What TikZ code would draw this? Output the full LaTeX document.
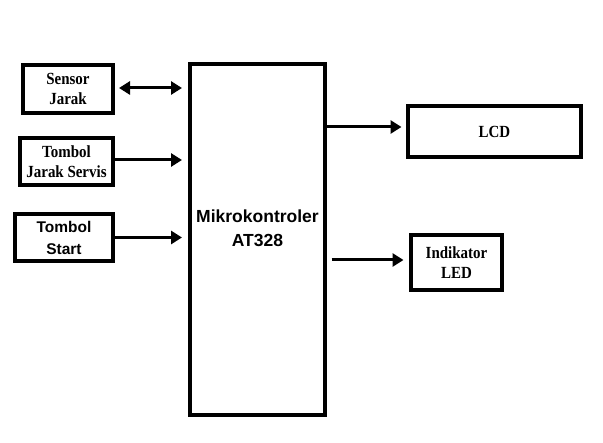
\documentclass[tikz,border=0pt]{standalone}
\usepackage{fontspec}
\setmainfont{Liberation Serif}[FakeStretch=0.88]
\newfontfamily\blocksans{Liberation Sans}
\usetikzlibrary{arrows.meta,positioning}

\begin{document}
\begin{tikzpicture}[x=1pt,y=-1pt,
  blok/.style={draw,line width=4pt,fill=white,align=center,inner sep=0pt,font=\fontsize{17}{20}\selectfont\bfseries},
  bloksans/.style={blok,font=\fontsize{15.5}{22}\selectfont\blocksans\bfseries},
  panah/.style={line width=3pt,-{Triangle[length=11pt,width=13pt]}},
  panahdua/.style={line width=3pt,{Triangle[length=11pt,width=13pt]}-{Triangle[length=11pt,width=13pt]}}]
  \useasboundingbox (0,0) rectangle (603,443);
  \node[blok,minimum width=90pt,minimum height=48pt] (sensor) at (68,89) {Sensor\\Jarak};
  \node[blok,minimum width=93pt,minimum height=47pt] (servis) at (66.5,161.5) {Tombol\\Jarak Servis};
  \node[bloksans,minimum width=98pt,minimum height=47pt] (start) at (64,237.5) {Tombol\\Start};
  \node[blok,minimum width=135pt,minimum height=351pt] (mcu) at (257.5,239.5) {};
  \node[font=\fontsize{17.5}{24}\selectfont\blocksans\bfseries,align=center] (mcutext) at ([yshift=11pt]mcu.center) {Mikrokontroler\\AT328};
  \node[blok,minimum width=173pt,minimum height=51pt] (lcd) at (494.5,131.5) {LCD};
  \node[blok,minimum width=91pt,minimum height=55pt] (led) at (456.5,262.5) {Indikator\\LED};
  \draw[panahdua] ([xshift=4pt,yshift=1pt]sensor.east) -- ([xshift=-6pt,yshift=1pt]mcu.west |- sensor.east);
  \draw[panah] ([yshift=1.5pt]servis.east) -- ([xshift=-6pt,yshift=1.5pt]mcu.west |- servis.east);
  \draw[panah] (start.east) -- ([xshift=-6pt]mcu.west |- start.east);
  \draw[panah] ([yshift=4.5pt]mcu.east |- lcd.west) -- ([xshift=-4.5pt,yshift=4.5pt]lcd.west);
  \draw[panah] ([xshift=4.5pt,yshift=2.5pt]mcu.east |- led.west) -- ([xshift=-5.5pt,yshift=2.5pt]led.west);
\end{tikzpicture}
\end{document}
